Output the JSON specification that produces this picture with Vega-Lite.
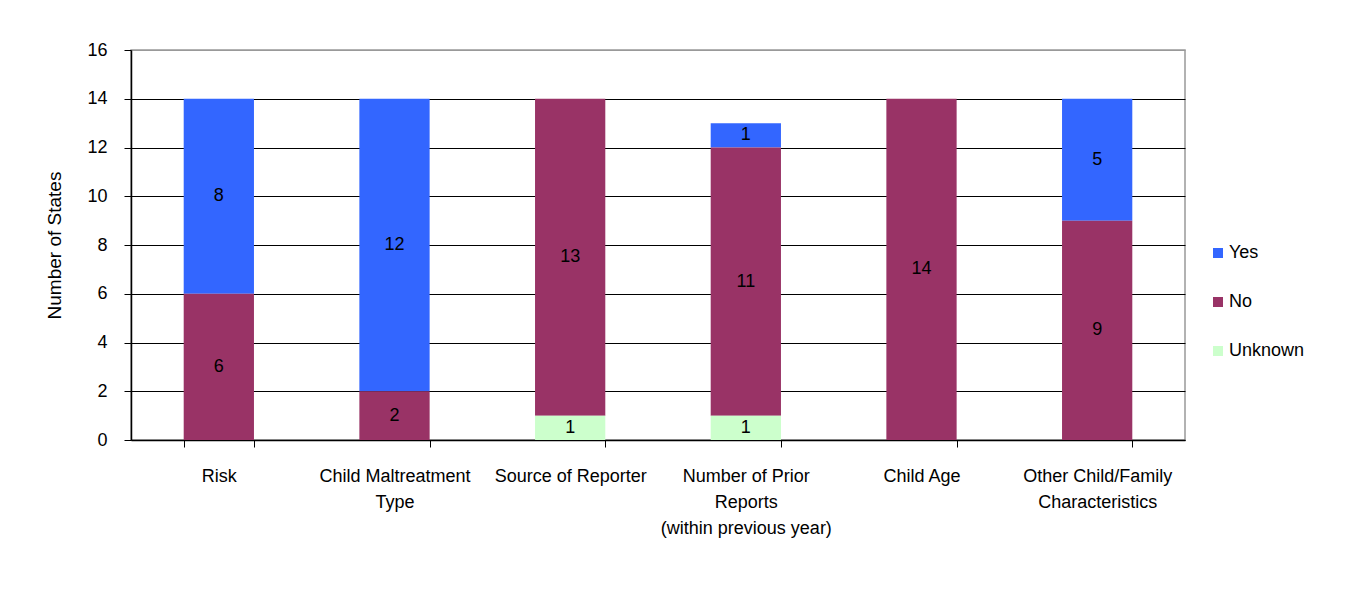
{
  "$schema": "https://vega.github.io/schema/vega-lite/v6.json",
  "autosize": {"type": "none"},
  "width": 1054,
  "height": 390,
  "padding": {"left": 131, "top": 50, "right": 161, "bottom": 152},
  "background": "white",
  "config": {
    "font": "Liberation Sans",
    "view": {"stroke": "#999999", "strokeWidth": 1.5},
    "axis": {"labelFont": "Liberation Sans", "titleFont": "Liberation Sans", "labelColor": "black", "titleColor": "black"}
  },
  "data": {
    "values": [
      {"category": "Risk", "response": "Yes", "count": 8, "order": 2},
      {"category": "Risk", "response": "No", "count": 6, "order": 1},
      {"category": "Child Maltreatment Type", "response": "Yes", "count": 12, "order": 2},
      {"category": "Child Maltreatment Type", "response": "No", "count": 2, "order": 1},
      {"category": "Source of Reporter", "response": "No", "count": 13, "order": 1},
      {"category": "Source of Reporter", "response": "Unknown", "count": 1, "order": 0},
      {"category": "Number of Prior Reports (within previous year)", "response": "Yes", "count": 1, "order": 2},
      {"category": "Number of Prior Reports (within previous year)", "response": "No", "count": 11, "order": 1},
      {"category": "Number of Prior Reports (within previous year)", "response": "Unknown", "count": 1, "order": 0},
      {"category": "Child Age", "response": "No", "count": 14, "order": 1},
      {"category": "Other Child/Family Characteristics", "response": "Yes", "count": 5, "order": 2},
      {"category": "Other Child/Family Characteristics", "response": "No", "count": 9, "order": 1}
    ]
  },
  "transform": [
    {"stack": "count", "groupby": ["category"], "sort": [{"field": "order", "order": "ascending"}], "as": ["y0", "y1"]},
    {"calculate": "(datum.y0 + datum.y1) / 2", "as": "ymid"}
  ],
  "encoding": {
    "x": {
      "field": "category",
      "type": "nominal",
      "sort": ["Risk", "Child Maltreatment Type", "Source of Reporter", "Number of Prior Reports (within previous year)", "Child Age", "Other Child/Family Characteristics"],
      "scale": {"paddingInner": 0.6, "paddingOuter": 0.3},
      "axis": {
        "title": null,
        "labelAngle": 0,
        "labelFontSize": 18,
        "labelLineHeight": 26,
        "labelPadding": 20,
        "labelBaseline": "top",
        "tickBand": "extent",
        "tickSize": 7,
        "tickColor": "black",
        "domainColor": "black",
        "domainWidth": 1.5,
        "labelExpr": "datum.value == 'Child Maltreatment Type' ? ['Child Maltreatment', 'Type'] : datum.value == 'Number of Prior Reports (within previous year)' ? ['Number of Prior', 'Reports', '(within previous year)'] : datum.value == 'Other Child/Family Characteristics' ? ['Other Child/Family', 'Characteristics'] : datum.value"
      }
    }
  },
  "layer": [
    {
      "mark": {"type": "bar"},
      "encoding": {
        "y": {
          "field": "y0",
          "type": "quantitative",
          "scale": {"domain": [0, 16], "nice": false},
          "axis": {
            "title": "Number of States",
            "titleFontSize": 19,
            "titleFontWeight": "normal",
            "titlePadding": 22,
            "values": [0, 2, 4, 6, 8, 10, 12, 14, 16],
            "labelFontSize": 18,
            "labelPadding": 17,
            "tickSize": 7,
            "tickColor": "black",
            "domainColor": "black",
            "domainWidth": 1.5,
            "grid": true,
            "gridColor": {"condition": {"test": "datum.value == 16", "value": "#999999"}, "value": "#000000"},
            "gridWidth": 1
          }
        },
        "y2": {"field": "y1"},
        "color": {
          "field": "response",
          "type": "nominal",
          "scale": {"domain": ["Yes", "No", "Unknown"], "range": ["#3366FF", "#993366", "#CCFFCC"]},
          "legend": {
            "title": null,
            "orient": "none",
            "legendX": 1078,
            "legendY": 194,
            "symbolType": "square",
            "symbolSize": 100,
            "symbolStrokeWidth": 0,
            "labelFontSize": 18,
            "labelOffset": 2,
            "rowPadding": 31,
            "labelColor": "black"
          }
        }
      }
    },
    {
      "mark": {"type": "text", "fontSize": 18, "color": "black", "baseline": "middle", "align": "center"},
      "encoding": {
        "y": {"field": "ymid", "type": "quantitative"},
        "text": {"field": "count", "type": "quantitative"}
      }
    }
  ]
}
